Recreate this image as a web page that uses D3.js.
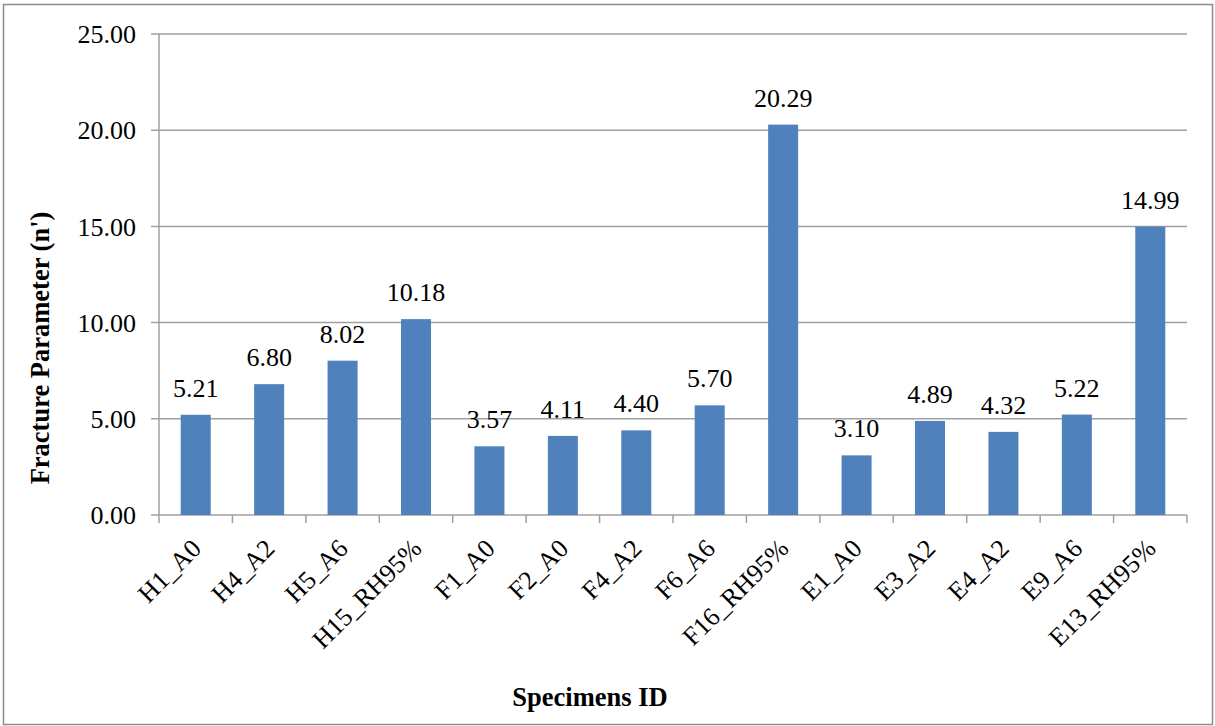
<!DOCTYPE html>
<html>
<head>
<meta charset="utf-8">
<script src="https://cdn.jsdelivr.net/npm/d3@7"></script>
<style>
  html, body { margin: 0; padding: 0; background: #fff; }
  svg { display: block; }
</style>
</head>
<body>
<svg id="chart" width="1215" height="726" font-family="'Liberation Serif', 'Times New Roman', Tinos, 'DejaVu Serif', serif"></svg>
<script>
// Fracture parameter n' for each specimen
const specimens = ["H1_A0", "H4_A2", "H5_A6", "H15_RH95%", "F1_A0", "F2_A0", "F4_A2", "F6_A6",
                   "F16_RH95%", "E1_A0", "E3_A2", "E4_A2", "E9_A6", "E13_RH95%"];
const fractureValues = [5.21, 6.80, 8.02, 10.18, 3.57, 4.11, 4.40, 5.70, 20.29, 3.10, 4.89, 4.32, 5.22, 14.99];
const yTicks = [0, 5, 10, 15, 20, 25];

const svg = d3.select("#chart");
const W = 1215, H = 726;
const margin = { left: 159, right: 1187, top: 34, bottom: 515 };
const fontSize = "26px";

// Outer chart frame
svg.append("rect")
  .attr("x", 3.5).attr("y", 4.5)
  .attr("width", W - 6).attr("height", H - 6)
  .attr("fill", "#fff").attr("stroke", "#8c8c8c").attr("stroke-width", 1.5);

const x = d3.scaleBand().domain(specimens).range([margin.left, margin.right]).paddingInner(0).paddingOuter(0);
const y = d3.scaleLinear().domain([0, 25]).range([margin.bottom, margin.top]);

// Horizontal gridlines
svg.append("g").selectAll("line").data(yTicks).join("line")
  .attr("x1", margin.left - 8).attr("x2", margin.right)
  .attr("y1", d => y(d)).attr("y2", d => y(d))
  .attr("stroke", "#a0a0a0").attr("stroke-width", 1.5);

// Y axis line
svg.append("line")
  .attr("x1", margin.left).attr("x2", margin.left)
  .attr("y1", margin.top).attr("y2", margin.bottom)
  .attr("stroke", "#a0a0a0").attr("stroke-width", 1.5);

// Y tick labels
svg.append("g").selectAll("text").data(yTicks).join("text")
  .attr("x", margin.left - 23).attr("y", d => y(d))
  .attr("dy", "0.35em").attr("text-anchor", "end")
  .style("font-size", fontSize)
  .text(d => d3.format(".2f")(d));

// Category tick marks on the x axis
const boundaries = specimens.map(d => x(d)).concat([margin.right]);
svg.append("g").selectAll("line").data(boundaries).join("line")
  .attr("x1", d => d).attr("x2", d => d)
  .attr("y1", margin.bottom).attr("y2", margin.bottom + 8)
  .attr("stroke", "#a0a0a0").attr("stroke-width", 1.5);

// Bars
const barW = 30;
svg.append("g").selectAll("rect").data(specimens).join("rect")
  .attr("x", (d) => x(d) + x.bandwidth() / 2 - barW / 2)
  .attr("y", (d, i) => y(fractureValues[i]))
  .attr("width", barW)
  .attr("height", (d, i) => y(0) - y(fractureValues[i]))
  .attr("fill", "#4f81bd");

// Value labels above bars
svg.append("g").selectAll("text").data(specimens).join("text")
  .attr("x", d => x(d) + x.bandwidth() / 2)
  .attr("y", (d, i) => y(fractureValues[i]) - 18)
  .attr("text-anchor", "middle")
  .style("font-size", fontSize)
  .text((d, i) => d3.format(".2f")(fractureValues[i]));

// Rotated category labels
svg.append("g").selectAll("text").data(specimens).join("text")
  .attr("transform", d => `translate(${x(d) + x.bandwidth() / 2 + 7},${margin.bottom + 35}) rotate(-45)`)
  .attr("text-anchor", "end")
  .style("font-size", fontSize)
  .text(d => d);

// Axis titles
svg.append("text")
  .attr("x", 590).attr("y", 706)
  .attr("text-anchor", "middle")
  .style("font-size", "26.5px").style("font-weight", "bold")
  .text("Specimens ID");

svg.append("text")
  .attr("transform", `translate(49,348) rotate(-90)`)
  .attr("text-anchor", "middle")
  .style("font-size", "26.5px").style("font-weight", "bold")
  .text("Fracture Parameter (n')");
</script>
</body>
</html>
